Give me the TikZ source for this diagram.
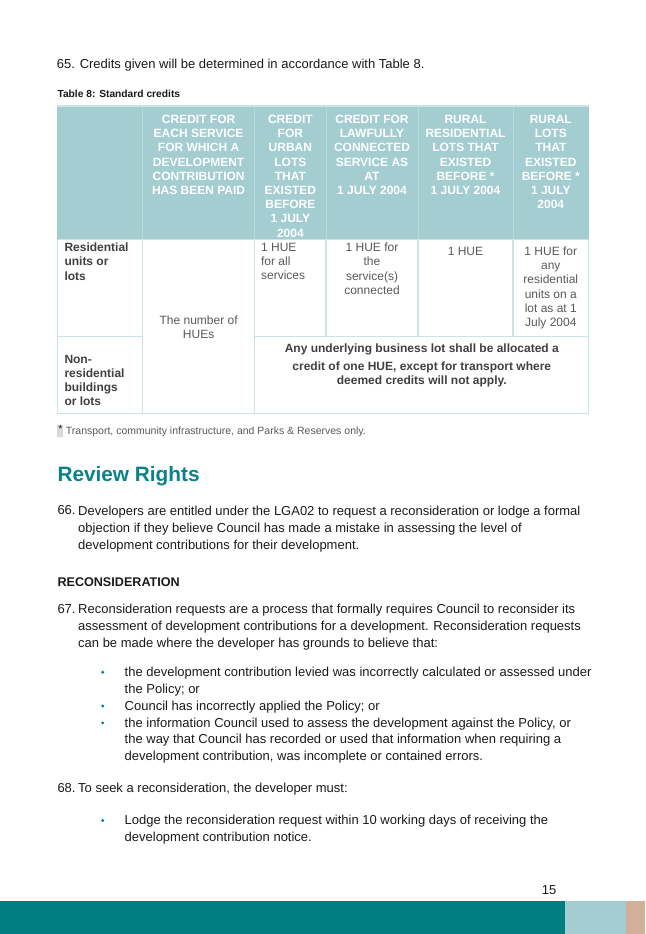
\documentclass[tikz,border=0pt]{standalone}
\usepackage{fontspec}
\setmainfont{Liberation Sans}
\definecolor{bodytext}{HTML}{1A1A1A}
\definecolor{celltext}{HTML}{595959}
\definecolor{cellbold}{HTML}{404040}
\definecolor{tealhead}{HTML}{0A8388}
\definecolor{tealbar}{HTML}{007E80}
\definecolor{hdrbg}{HTML}{A3CDD1}
\definecolor{gridc}{HTML}{C9E3E6}
\definecolor{hdrsep}{HTML}{B8DADD}
\definecolor{tanbar}{HTML}{D2AF98}
\definecolor{notebox}{HTML}{D9D9D9}
\begin{document}
\begin{tikzpicture}[x=1pt,y=-1pt,
  bodytxt/.style={font=\fontsize{13}{17.2}\selectfont, text=bodytext, inner sep=0pt, align=left, anchor=north west},
  hdr/.style={font=\fontsize{12}{14.2}\selectfont\bfseries, text=white, inner sep=0pt, align=center, anchor=north},
  celltxt/.style={font=\fontsize{12}{14.2}\selectfont, text=celltext, inner sep=0pt},
  cellbtxt/.style={font=\fontsize{12}{14.2}\selectfont\bfseries, text=cellbold, inner sep=0pt},
  gridline/.style={draw=gridc, line width=1.3pt},
  hdrline/.style={draw=hdrsep, line width=1pt},
  bulletdot/.style={circle, fill=tealbar, inner sep=0pt, minimum size=3.2pt}
]
\useasboundingbox (0,0) rectangle (645,934);

% intro
\node[bodytxt] (p65) at (56.7,59) {65. Credits given will be determined in accordance with Table 8.};
\node[font=\fontsize{10.25}{12}\selectfont\bfseries, text=bodytext, inner sep=0pt, anchor=north west] (ttl) at (57.3,90.2) {Table 8: Standard credits};

% table header background
\fill[hdrbg] (57.3,106) rectangle (588.7,239.3);
\foreach \xx in {142.4,254.8,326,418,513}{\draw[hdrline] (\xx,106) -- (\xx,239.3);}
% body grid
\draw[gridline] (57.3,239.3) -- (57.3,413.7) -- (588.7,413.7) -- (588.7,239.3);
\draw[gridline] (57.3,106) -- (588.7,106);
\draw[gridline] (57.3,239.3) -- (588.7,239.3);
\draw[gridline] (142.4,239.3) -- (142.4,413.7);
\draw[gridline] (254.8,239.3) -- (254.8,413.7);
\foreach \xx in {326,418,513}{\draw[gridline] (\xx,239.3) -- (\xx,336.7);}
\draw[gridline] (57.3,336.7) -- (142.4,336.7);
\draw[gridline] (254.8,336.7) -- (588.7,336.7);

% header texts
\node[hdr] (h1) at (198.6,115) {CREDIT FOR\\EACH SERVICE\\FOR WHICH A\\DEVELOPMENT\\CONTRIBUTION\\HAS BEEN PAID};
\node[hdr] (h2) at (290.4,115) {CREDIT\\FOR\\URBAN\\LOTS\\THAT\\EXISTED\\BEFORE\\1 JULY\\2004};
\node[hdr] (h3) at (372,115) {CREDIT FOR\\LAWFULLY\\CONNECTED\\SERVICE AS\\AT\\1 JULY 2004};
\node[hdr] (h4) at (465.5,115) {RURAL\\RESIDENTIAL\\LOTS THAT\\EXISTED\\BEFORE *\\1 JULY 2004};
\node[hdr] (h5) at (550.8,115) {RURAL\\LOTS\\THAT\\EXISTED\\BEFORE *\\1 JULY\\2004};

% row 1
\node[cellbtxt, align=left, anchor=north west] (r1c0) at (64.3,242.9) {Residential\\units or\\lots};
\node[celltxt, align=left, anchor=north west] (r1c2) at (260.9,242.9) {1 HUE\\for all\\services};
\node[celltxt, align=center, anchor=north] (r1c3) at (372,242.9) {1 HUE for\\the\\service(s)\\connected};
\node[celltxt, align=center, anchor=north] (r1c4) at (465.5,246.6) {1 HUE};
\node[celltxt, align=center, anchor=north] (r1c5) at (550.8,246.6) {1 HUE for\\any\\residential\\units on a\\lot as at 1\\July 2004};
\node[celltxt, align=center, anchor=north] (r1c1) at (198.6,315.6) {The number of\\HUEs};

% row 2
\node[cellbtxt, align=left, anchor=north west] (r2c0) at (64.3,354.6) {Non-\\residential\\buildings\\or lots};
\node[cellbtxt, align=center, anchor=north] (r2c2) at (421.8,343.9) {Any underlying business lot shall be allocated a\\[3.5pt]credit of one HUE, except for transport where\\deemed credits will not apply.};

% footnote
\fill[notebox] (57.3,424.5) rectangle (63.3,436.5);
\node[font=\fontsize{10.5}{12}\selectfont, text=bodytext, inner sep=0pt, anchor=north] (star) at (60.3,425) {*};
\node[font=\fontsize{10.5}{12}\selectfont, text=celltext, inner sep=0pt, anchor=north west] (fn) at (65.7,426.8) {Transport, community infrastructure, and Parks \& Reserves only.};

% heading
\node[font=\fontsize{20.8}{24}\selectfont\bfseries, text=tealhead, inner sep=0pt, anchor=base west] (rr) at (57.3,481.7) {Review Rights};

% 66
\node[bodytxt] (n66) at (57.3,505.7) {66.};
\node[bodytxt] (p66) at (78,505.7) {Developers are entitled under the LGA02 to request a reconsideration or lodge a formal\\objection if they believe Council has made a mistake in assessing the level of\\development contributions for their development.};

% subheading
\node[font=\fontsize{12.6}{15}\selectfont\bfseries, text=bodytext, inner sep=0pt, anchor=north west] (recon) at (57.3,577.2) {RECONSIDERATION};

% 67
\node[bodytxt] (n67) at (57.3,604.3) {67.};
\node[bodytxt, font=\fontsize{13}{16.7}\selectfont] (p67) at (78,604.3) {Reconsideration requests are a process that formally requires Council to reconsider its\\assessment of development contributions for a development. Reconsideration requests\\can be made where the developer has grounds to believe that:};

\node[bulletdot] (d1) at (102.7,672.2) {};
\node[bodytxt, font=\fontsize{13}{16.9}\selectfont] (b1) at (124.5,666.7) {the development contribution levied was incorrectly calculated or assessed under\\the Policy; or};
\node[bulletdot] (d2) at (102.7,706) {};
\node[bodytxt] (b2) at (124.5,700.5) {Council has incorrectly applied the Policy; or};
\node[bulletdot] (d3) at (102.7,722.9) {};
\node[bodytxt, font=\fontsize{13}{16.9}\selectfont] (b3) at (124.5,717.4) {the information Council used to assess the development against the Policy, or\\the way that Council has recorded or used that information when requiring a\\development contribution, was incomplete or contained errors.};

% 68
\node[bodytxt] (n68) at (57.3,783.3) {68.};
\node[bodytxt] (p68) at (78,783.3) {To seek a reconsideration, the developer must:};
\node[bulletdot] (d4) at (102.7,820.5) {};
\node[bodytxt, font=\fontsize{13}{16.7}\selectfont] (b4) at (124.5,815) {Lodge the reconsideration request within 10 working days of receiving the\\development contribution notice.};

% page number and bar
\node[font=\fontsize{13}{15}\selectfont, text=bodytext, inner sep=0pt, anchor=base west] (pg) at (541.7,894) {15};
\fill[tealbar] (0,901) rectangle (564.6,934);
\fill[hdrbg] (564.6,901) rectangle (626.3,934);
\fill[tanbar] (626.3,901) rectangle (645,934);
\end{tikzpicture}
\end{document}
